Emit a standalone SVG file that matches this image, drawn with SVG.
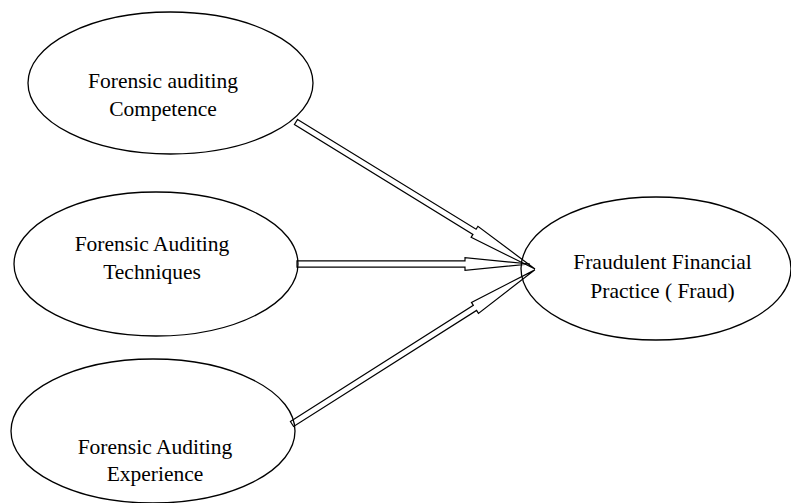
<svg xmlns="http://www.w3.org/2000/svg" width="791" height="503" viewBox="0 0 791 503">
<style>
.node ellipse{fill:#fff;stroke:#000;stroke-width:1.3}
.node text{font-family:"Liberation Serif","Times New Roman",serif;font-size:21.5px;fill:#000;text-anchor:middle}
.conn polygon{fill:none;stroke:#000;stroke-width:1.2;stroke-linejoin:miter}
</style>
<rect width="791" height="503" fill="#fff"/>
<g id="competence" class="node">
<ellipse cx="170.5" cy="83" rx="142.5" ry="71"/>
<text x="163" y="88">Forensic auditing</text>
<text x="163" y="116">Competence</text>
</g>
<g id="techniques" class="node">
<ellipse cx="156" cy="264" rx="142" ry="72"/>
<text x="152" y="251">Forensic Auditing</text>
<text x="152" y="279">Techniques</text>
</g>
<g id="experience" class="node">
<ellipse cx="153" cy="431" rx="142" ry="72"/>
<text x="155" y="454">Forensic Auditing</text>
<text x="155" y="481">Experience</text>
</g>
<g id="fraud" class="node">
<ellipse cx="656" cy="268.5" rx="135" ry="71.5"/>
<text x="662.5" y="269">Fraudulent Financial</text>
<text x="662.5" y="298">Practice ( Fraud)</text>
</g>
<g id="connectors" class="conn">
<polygon transform="translate(296,122) rotate(31.6)" points="0,-3 209.6,-3 209.6,-6.5 280.6,0 209.6,6.5 209.6,3 0,3"/>
<polygon transform="translate(297,264)" points="0,-3.2 168,-3.2 168,-6.3 233,0 168,6.3 168,3.2 0,3.2"/>
<polygon transform="translate(292,424) rotate(-32.4)" points="0,-3 216.7,-3 216.7,-6.5 287.7,0 216.7,6.5 216.7,3 0,3"/>
</g>
</svg>
